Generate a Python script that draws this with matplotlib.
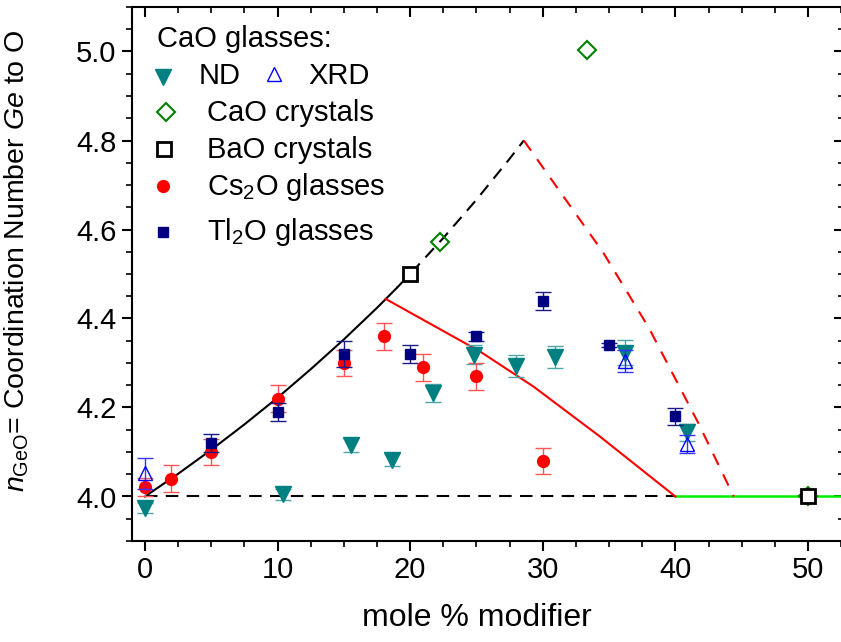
import matplotlib
matplotlib.use("Agg")
import matplotlib.pyplot as plt
from matplotlib.ticker import MultipleLocator

plt.rcParams['font.family'] = ['Liberation Sans', 'DejaVu Sans']
plt.rcParams['mathtext.fontset'] = 'custom'
plt.rcParams['mathtext.rm'] = 'Liberation Sans'
plt.rcParams['mathtext.it'] = 'Liberation Sans:italic'

# ---- data ----
nd_x = [0, 10.4, 15.5, 18.6, 21.7, 24.8, 28.0, 30.9, 36.2, 40.9]
nd_y = [3.974, 4.005, 4.116, 4.083, 4.232, 4.319, 4.294, 4.314, 4.323, 4.144]
nd_err = [0.012, 0.012, 0.015, 0.015, 0.02, 0.022, 0.025, 0.025, 0.028, 0.02]

xrd_x = [0, 36.2, 40.9]
xrd_y = [4.052, 4.304, 4.118]
xrd_err = [0.035, 0.025, 0.02]

cao_cr_x = [22.25, 33.3, 50]
cao_cr_y = [4.572, 5.003, 4.0]

bao_cr_x = [20, 50]
bao_cr_y = [4.50, 4.0]

cs_x = [0, 2, 5, 10, 15, 18, 21, 25, 30]
cs_y = [4.021, 4.040, 4.100, 4.220, 4.300, 4.360, 4.290, 4.270, 4.080]
cs_err = [0.02, 0.03, 0.03, 0.03, 0.03, 0.03, 0.03, 0.03, 0.03]

tl_x = [5, 10, 15, 20, 25, 30, 35, 40]
tl_y = [4.120, 4.189, 4.320, 4.320, 4.360, 4.440, 4.340, 4.180]
tl_err = [0.02, 0.02, 0.03, 0.02, 0.01, 0.02, 0.005, 0.02]

# model lines
black_solid_x = [0, 2.5, 5, 7.5, 10, 12.5, 15, 17.5, 19]
black_solid_y = [4.0, 4.051, 4.105, 4.162, 4.222, 4.286, 4.353, 4.424, 4.469]
black_dash_x = [19, 20, 22.5, 25, 27.5, 28.57]
black_dash_y = [4.469, 4.5, 4.581, 4.667, 4.759, 4.8]

red_solid_x = [18.15, 20.74, 25.26, 29.3, 34.3, 40]
red_solid_y = [4.444, 4.401, 4.326, 4.247, 4.135, 4.0]
red_dash_x = [28.57, 34.56, 38, 41.73, 44.4]
red_dash_y = [4.8, 4.548, 4.379, 4.165, 4.0]

base_dash_x = [0, 40]
base_dash_y = [4.0, 4.0]
green_x = [40, 53]
green_y = [4.0, 4.0]

# ---- figure ----
W, H = 841, 642
fig = plt.figure(figsize=(W / 100, H / 100), dpi=100)
L, R, T, B = 131.7, 843.5, 7, 541
ax = fig.add_axes([L / W, 1 - B / H, (R - L) / W, (B - T) / H])
ax.set_xlim(-1.0, (R - 145) / 13.26)
ax.set_ylim(3.9, 5.1)

ax.plot(base_dash_x, base_dash_y, color='black', lw=1.5, ls=(0, (6, 4)), zorder=2)
ax.plot(green_x, green_y, color='#00ee00', lw=1.8, zorder=2)
ax.plot(black_solid_x, black_solid_y, color='black', lw=1.5, zorder=2)
ax.plot(black_dash_x, black_dash_y, color='black', lw=1.5, ls=(0, (6, 4)), zorder=2)
ax.plot(red_solid_x, red_solid_y, color='red', lw=1.5, zorder=2)
ax.plot(red_dash_x, red_dash_y, color='red', lw=1.5, ls=(0, (6, 5)), zorder=2)

ax.errorbar(nd_x, nd_y, yerr=nd_err, fmt='v', color='#008080', ms=11,
            ecolor='#4da6a6', elinewidth=1, capsize=6, capthick=1, zorder=4)
ax.errorbar(xrd_x, xrd_y, yerr=xrd_err, fmt='^', color='#0000ff', mfc='none', ms=10,
            mew=1, ecolor='#3333ff', elinewidth=1, capsize=6, capthick=1, zorder=5)
ax.errorbar(cs_x, cs_y, yerr=cs_err, fmt='o', color='red', ms=8.5,
            ecolor='#ff5555', elinewidth=1, capsize=6, capthick=1, zorder=4)
ax.errorbar(tl_x, tl_y, yerr=tl_err, fmt='s', color='#000080', ms=6.5,
            ecolor='#1a1a8c', elinewidth=1, capsize=6, capthick=1, zorder=5)
ax.plot(cao_cr_x, cao_cr_y, 'D', color='#008000', mfc='none', ms=9.5, mew=1.5, zorder=6)
ax.plot(bao_cr_x, bao_cr_y, 's', color='black', mfc='white', ms=10, mew=2, zorder=7)

# axes styling
for s in ax.spines.values():
    s.set_linewidth(1.5)
ax.xaxis.set_major_locator(MultipleLocator(10))
ax.xaxis.set_minor_locator(MultipleLocator(2.5))
ax.yaxis.set_major_locator(MultipleLocator(0.2))
ax.yaxis.set_minor_locator(MultipleLocator(0.05))
ax.yaxis.set_major_formatter(matplotlib.ticker.FormatStrFormatter('%.1f'))
ax.tick_params(axis='both', which='major', labelsize=21, width=1.5, length=7, direction='out', pad=4)
ax.tick_params(axis='both', which='minor', width=1.2, length=4, direction='out')
ax.tick_params(top=True, right=True, which='both')
for t in ax.xaxis.get_major_ticks() + ax.xaxis.get_minor_ticks():
    t.tick2line.set_marker(matplotlib.lines.TICKDOWN)
for t in ax.yaxis.get_major_ticks() + ax.yaxis.get_minor_ticks():
    t.tick2line.set_marker(matplotlib.lines.TICKLEFT)

ax.set_xlabel('mole % modifier', fontsize=23)
ax.xaxis.set_label_coords((477 - L) / (R - L), (B - 603) / (B - T))
ax.set_ylabel(r'$n_{\mathrm{GeO}}$= Coordination Number $Ge$ to O', fontsize=20.5)
ax.yaxis.set_label_coords((31 - L) / (R - L), (B - 261) / (B - T))

# manual legend
def fp(px, py):
    return (px / W, 1 - py / H)

fs_leg = 21
def leg_text(px, py, s):
    x, y = fp(px, py)
    fig.text(x, y, s, fontsize=fs_leg, ha='left', va='baseline')

def leg_mark(px, py, **kw):
    x, y = fp(px, py)
    ax.plot([x], [y], transform=fig.transFigure, clip_on=False, ls='none', **kw)

leg_text(157, 47, 'CaO glasses:')
leg_mark(163, 77, marker='v', color='#008080', ms=11)
leg_text(199, 84, 'ND')
leg_mark(274, 74, marker='^', color='#0000ff', mfc='none', ms=10, mew=1)
leg_text(308, 84, 'XRD')
leg_mark(166, 112, marker='D', color='#008000', mfc='none', ms=9.5, mew=1.5)
leg_text(207, 121, 'CaO crystals')
leg_mark(164, 149, marker='s', color='black', mfc='white', ms=10, mew=2)
leg_text(207, 158, 'BaO crystals')
leg_mark(163, 186, marker='o', color='red', ms=8.5)
leg_text(207, 195, r'Cs$_2$O glasses')
leg_mark(163, 232, marker='s', color='#000080', ms=6.5)
leg_text(207, 240, r'Tl$_2$O glasses')

fig.savefig('out.png', dpi=100)
